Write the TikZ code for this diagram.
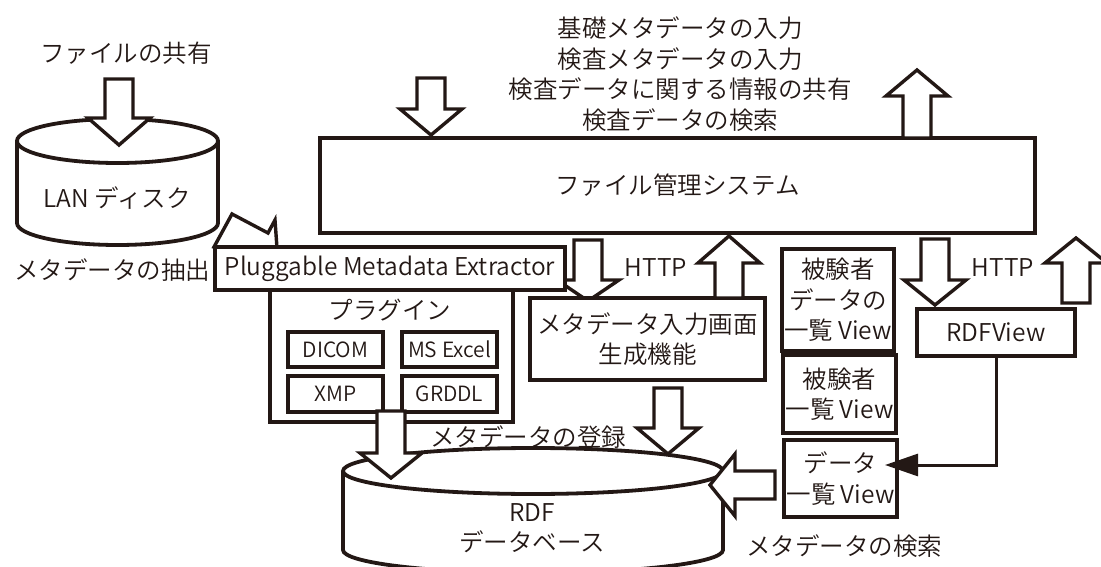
\documentclass[tikz,border=0pt]{standalone}
\usepackage{fontspec}
\setmainfont{Noto Sans CJK JP DemiLight}
\usetikzlibrary{arrows.meta}
\definecolor{ink}{HTML}{231815}

% vertical block arrow: x, tail y, head-base y, tip y
\newcommand\vblock[4]{%
  \filldraw[blockarrow] (#1-14,#2) -- (#1-14,#3) -- (#1-31,#3) -- (#1,#4)
    -- (#1+31,#3) -- (#1+14,#3) -- (#1+14,#2) -- cycle;}
% horizontal block arrow: y, tail x, head-base x, tip x
\newcommand\hblock[4]{%
  \filldraw[blockarrow] (#2,#1-14) -- (#3,#1-14) -- (#3,#1-31) -- (#4,#1)
    -- (#3,#1+31) -- (#3,#1+14) -- (#2,#1+14) -- cycle;}

\begin{document}
\begin{tikzpicture}[x=1pt,y=-1pt, line width=3.6pt, draw=ink,
  every node/.style={inner sep=0pt, outer sep=0pt, text=ink},
  lbl/.style={font=\fontsize{24.5}{30.5}\selectfont, align=center},
  small/.style={font=\fontsize{21}{24}\selectfont},
  box/.style={draw=ink, fill=white, line width=3.6pt, rectangle,
    font=\fontsize{24.5}{30.5}\selectfont, align=center},
  blockarrow/.style={draw=ink, fill=white, line width=3.4pt, line join=miter},
  drum/.style={draw=ink, fill=white, line width=3.8pt},
]
\useasboundingbox (0,0) rectangle (1101,567);

% LAN disk
\filldraw[drum] (17,141) -- (17,223)
  arc[start angle=180,end angle=360,x radius=100.5pt,y radius=22pt] -- (218,141);
\filldraw[drum] (117.5,141) ellipse[x radius=100.5pt, y radius=22pt];
\vblock{119}{79}{118}{145}

% RDF database
\filldraw[drum] (343,471) -- (343,550)
  arc[start angle=180,end angle=360,x radius=190pt,y radius=23pt] -- (723,471);
\filldraw[drum] (533,471) ellipse[x radius=190pt, y radius=23pt];

% file management system
\node[box, minimum width=715pt, minimum height=95pt] (fms) at (677.5,185.5) {ファイル管理システム};
\vblock{431}{78}{109}{135}
\vblock{917}{138}{96}{70}

% extractor and its plug-ins
\filldraw[blockarrow] (214,247) -- (232,214) -- (268,233) -- (275,220) -- (278,262) -- cycle;
\vblock{588}{240}{280}{301}
\node[box, minimum width=350pt, minimum height=43pt] (pme) at (390,268.5) {Pluggable Metadata Extractor};
\node[box, minimum width=243pt, minimum height=132pt] (plugins) at (391.5,356) {};
\node[box, small, minimum width=95pt, minimum height=35pt] (dicom) at (335.5,349.5) {DICOM};
\node[box, small, minimum width=95pt, minimum height=35pt] (excel) at (449.5,349.5) {MS Excel};
\node[box, small, minimum width=95pt, minimum height=36pt] (xmp) at (335.5,394) {XMP};
\node[box, small, minimum width=95pt, minimum height=36pt] (grddl) at (449.5,394) {GRDDL};
\vblock{391}{411}{453}{478}

% metadata input form generator
\node[box, minimum width=235pt, minimum height=82pt] (form) at (647.5,339) {メタデータ入力画面\\生成機能};
\vblock{729}{298}{263}{236}
\vblock{668}{388}{428}{454}

% list views
\node[box, minimum width=112pt, minimum height=102pt] (sdlist) at (838,300) {被験者\\データの\\一覧 View};
\node[box, minimum width=113pt, minimum height=78pt] (slist) at (839.5,394) {被験者\\一覧 View};
\node[box, minimum width=113pt, minimum height=77pt] (dlist) at (840.5,478.5) {データ\\一覧 View};
\hblock{485}{775}{735}{710}

% RDFView
\node[box, minimum width=158pt, minimum height=47pt] (rdfview) at (996,332.5) {RDFView};
\vblock{935}{239}{280}{305}
\vblock{1076}{303}{263}{238}
\coordinate (dlhead) at (885,465);
\draw[ink, line width=3pt, -{Triangle[length=33pt,width=22pt]}] (rdfview.south) |- (dlhead);

% labels
\node[lbl] (t1) at (126,53) {ファイルの共有};
\node[lbl] (t2) at (117,198) {LAN ディスク};
\node[lbl] (t3) at (112,270) {メタデータの抽出};
\node[lbl] (t4) at (680,74) {基礎メタデータの入力\\検査メタデータの入力\\検査データに関する情報の共有\\検査データの検索};
\node[lbl] (t5) at (656,268) {HTTP};
\node[lbl] (t6) at (1003,268) {HTTP};
\node[lbl] (t7) at (390,310) {プラグイン};
\node[lbl] (t8) at (528,437) {メタデータの登録};
\node[lbl] (t9) at (532,528) {RDF\\データベース};
\node[lbl] (t10) at (844,546) {メタデータの検索};
\end{tikzpicture}
\end{document}
